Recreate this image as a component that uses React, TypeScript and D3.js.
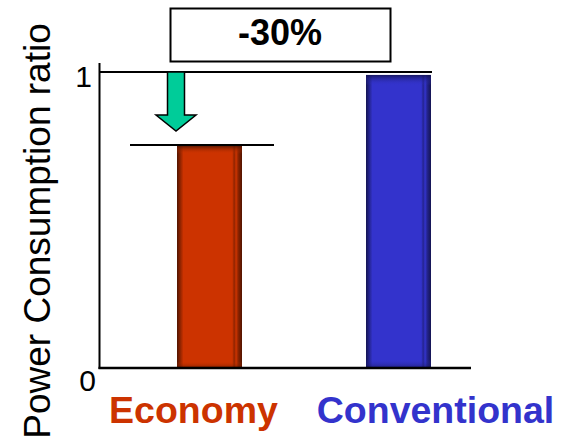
import React from "react";
import * as d3 from "d3";

// Data
const categories = ["Economy", "Conventional"];
const ratios = [0.75, 0.99];
const barColors = ["#CC3300", "#3333CC"];
const yTicks = [0, 1];
const reductionLabel = "-30%";
const yTitle = "Power Consumption ratio";

const W = 574;
const H = 446;
const FONT = "'Liberation Sans', Arial, Helvetica, sans-serif";

export default function App() {
  const y = d3.scaleLinear().domain([0, 1]).range([368, 72]);
  const x = d3.scalePoint<string>().domain(categories).range([209.5, 398.5]);
  const barW = 65;
  const axisX = 99.5;
  const baseY = y(0);
  const labelShift = [-16, 37];

  const ecoX = x(categories[0])!;
  const ecoTop = y(ratios[0]);

  // down arrow from the reference level towards the reduced level
  const ax = ecoX - 33.5;
  const aTop = y(1);
  const aTip = aTop + 59;
  const arrow = [
    [ax - 8.5, aTop],
    [ax + 8.5, aTop],
    [ax + 8.5, aTop + 43],
    [ax + 20, aTop + 43],
    [ax, aTip],
    [ax - 20, aTop + 43],
    [ax - 8.5, aTop + 43],
  ]
    .map((p) => p.join(","))
    .join(" ");

  return (
    <svg
      width={W}
      height={H}
      style={{ position: "absolute", left: 0, top: 0, background: "#fff" }}
      fontFamily={FONT}
    >
      <defs>
        {barColors.map((c, i) => {
          const dark = d3.color(c)!.darker(2.6).formatHex();
          const mid = d3.color(c)!.darker(1).formatHex();
          return (
            <React.Fragment key={i}>
              <linearGradient id={`bh${i}`} x1="0" x2="1" y1="0" y2="0">
                <stop offset="0" stopColor={dark} />
                <stop offset="0.1" stopColor={c} />
                <stop offset="0.85" stopColor={c} />
                <stop offset="0.88" stopColor={mid} />
                <stop offset="0.91" stopColor={c} />
                <stop offset="0.94" stopColor={mid} />
                <stop offset="1" stopColor={dark} />
              </linearGradient>
              <linearGradient id={`bv${i}`} x1="0" x2="0" y1="0" y2="1">
                <stop offset="0" stopColor={dark} stopOpacity="0.85" />
                <stop offset="0.035" stopColor={c} stopOpacity="0" />
                <stop offset="0.97" stopColor={c} stopOpacity="0" />
                <stop offset="1" stopColor={dark} stopOpacity="0.6" />
              </linearGradient>
            </React.Fragment>
          );
        })}
      </defs>

      {/* bars */}
      {categories.map((cat, i) => {
        const cx = x(cat)!;
        const top = y(ratios[i]);
        return (
          <g key={cat}>
            <rect x={cx - barW / 2} y={top} width={barW} height={baseY - top} fill={`url(#bh${i})`} />
            <rect x={cx - barW / 2} y={top} width={barW} height={baseY - top} fill={`url(#bv${i})`} />
          </g>
        );
      })}

      {/* axes */}
      <line x1={axisX} x2={axisX} y1={63} y2={baseY + 1} stroke="#000" strokeWidth={2} />
      <line x1={axisX - 1} x2={471} y1={baseY} y2={baseY} stroke="#000" strokeWidth={2.5} />
      <line x1={axisX} x2={432} y1={y(1)} y2={y(1)} stroke="#000" strokeWidth={2} />

      {/* reduced level marker */}
      <line x1={130} x2={274} y1={ecoTop - 1} y2={ecoTop - 1} stroke="#000" strokeWidth={2} />
      <polygon points={arrow} fill="#00CC99" stroke="#000" strokeWidth={1.5} strokeLinejoin="miter" />

      {/* tick labels */}
      {yTicks.map((t) => (
        <text key={t} x={t === 0 ? 96 : 92} y={t === 0 ? 391 : 87} fontSize={30} textAnchor="end" fill="#000">
          {t}
        </text>
      ))}

      {/* y title */}
      <text
        transform={`translate(50,231) rotate(-90)`}
        fontSize={37}
        textAnchor="middle"
        fill="#000"
      >
        {yTitle}
      </text>

      {/* category labels */}
      {categories.map((cat, i) => (
        <text
          key={cat}
          x={x(cat)! + labelShift[i]}
          y={423}
          fontSize={37.5}
          fontWeight="bold"
          textAnchor="middle"
          fill={barColors[i]}
        >
          {cat}
        </text>
      ))}

      {/* reduction box */}
      <rect x={170.5} y={8.5} width={220} height={53} fill="#fff" stroke="#000" strokeWidth={2} />
      <text x={280} y={45} fontSize={36} fontWeight="bold" textAnchor="middle" fill="#000">
        {reductionLabel}
      </text>
    </svg>
  );
}
